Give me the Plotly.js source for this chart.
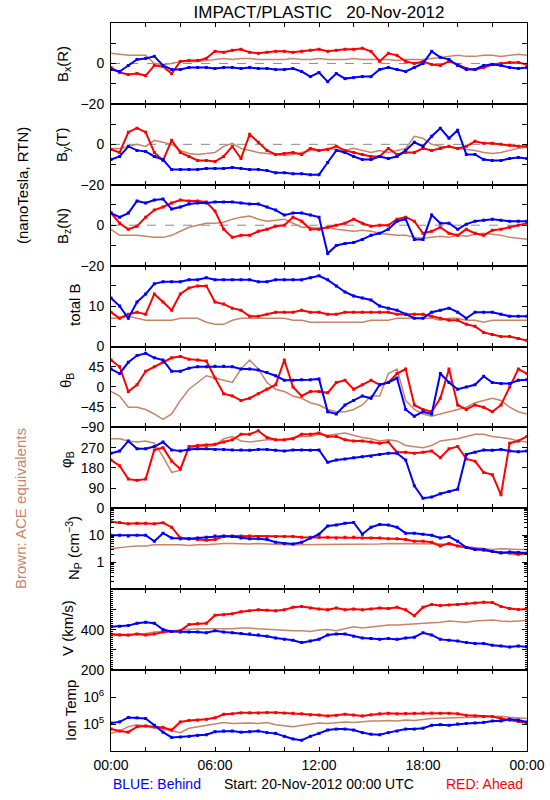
<!DOCTYPE html>
<html><head><meta charset="utf-8">
<script src="https://cdn.plot.ly/plotly-3.0.1.min.js"></script>
<style>html,body{margin:0;padding:0;background:#fff}#chart{width:550px;height:800px}</style>
</head><body><div id="chart"></div>
<script>
// time grid (hours after 20-Nov-2012 00:00 UTC)
const HOURS = [0,0.5,1,1.5,2,2.5,3,3.5,4,4.5,5,5.5,6,6.5,7,7.5,8,8.5,9,9.5,10,10.5,11,11.5,12,12.5,13,13.5,14,14.5,15,15.5,16,16.5,17,17.5,18,18.5,19,19.5,20,20.5,21,21.5,22,22.5,23,23.5,24];
const X_TICKS = [0,2,4,6,8,10,12,14,16,18,20,22,24];
const X_TICK_TEXT = ['00:00','','','06:00','','','12:00','','','18:00','','','00:00'];

// Bx (R), nT
const BX_BEHIND = [-3,-4,-1,2,2.5,3.5,-1,-3,-3,-2, -2,-2,-2.5,-2,-2,-2.5,-2,-2.5,-2.5,-3, -3,-2.5,-4,-6.5,-4.5,-9,-5,-7.5,-7,-6.5, -6.5,-3,-2,-3,-4,-2,0,6,3,2, -1,-3,-3,-1,-0.5,-1,-2,-2.5,-2];
const BX_AHEAD  = [-2,-4.5,-5.5,-5,-6,-1,-1.5,-5,1,1.5, 1.5,2.5,6,5.5,6.5,7,5.5,5,5.5,6, 6,5.5,6,6.5,7,6,6.5,7,7,7.5, 6,1,5,4,1,0,1,-0.5,-1,1, -0.5,-2.5,-3,-2,-0.5,0,0.5,0.5,-0.5];
const BX_ACE    = [5,4.5,4,4,4,0,-0.5,0,1,1, 1,1.5,2,2.5,2,2.5,2.5,2,2,2, 2,2.5,2,2,2.5,2,2,2,2.5,2, 2,2,2,1.5,2,2,2,2.5,3,3.5, 4,3.5,3.5,4,4,3.5,4,4.5,4];
// By (T)
const BY_BEHIND = [-7.5,-6,-1,-3,-3.5,-6,-7.5,-12.5,-12.5,-12.5, -12.5,-12,-12,-12,-11.5,-12,-12.5,-12.5,-13,-14, -14,-14.5,-14.5,-15,-15,-9,-3,-4,-6,-7.5, -7.5,-6,-7,-6,-3,1,-1,4,8,3, 7,-5,-5,-7.5,-8,-8,-7,-6.5,-7];
const BY_AHEAD  = [-2.5,-4,6,8,6,-4,-8,2,-4,-6, -8,-8,-8.5,-6,-1,-7,5,1,-3,-5, -4.5,-4,-5,-2,-3,-2.5,-1,-3,-4,-5, -6,-6,-2,-5,-4,-4,-2,-3,-2,-1, -2,-1,1.5,0.5,0.5,0,-0.5,-1,-1];
const BY_ACE    = [-2,-2,-1,0,-1,2,1,0,-3,-4.5, -5,-4.5,-4,-1,0.5,-2,-3,-4,-4.5,-5, -5.5,-5,-4,-3,-3,-2,-2.5,-3,-2,-3, -4,-3,-4,-3,-2,4,3,0,-1,-1.5, -2,-2.5,-3,-4,-4.5,-4,-3,-2,-1.5];
// Bz (N)
const BZ_BEHIND = [6,4,6,12,11,12.5,13,8,9,10.5, 11,11,11.5,11.5,11.5,11,10.5,10.5,9,7.5, 5,6,6,5,4,-14,-10,-9,-8.5,-7, -5,-4,-2,2,3,-7,-7,5,1,1, -2,0.5,2,2.5,3,2.5,2,2,2];
const BZ_AHEAD  = [6,1,-2,-0.5,4,7.5,9,11,12.5,12, 12,11.5,7,-2,-6,-5,-5,-3,-2,-0.5, 0,4,2,-2,-2,-1,0,1,3,1, -0.5,0,0,3,4,2,-4,-3,-1,-4, -5,-2,-4,-5,-2.5,-2,-1,0,1];
const BZ_ACE    = [-2,-5,-5,-5,-5.5,-6,-6,-5,-3,-1, 0,1,1,1.5,3,4,4.5,3,2,2.5, 3,1,-1,-1,-1.5,-1,-2,-2.5,-3,-2.5, -3,-4,-4.5,-5,-5,-6,-6.5,-6,-5.5,-6, -5,-5.5,-4.5,-4,-4.5,-5,-6,-6.5,-7];
// total B
const BT_BEHIND = [12,10,7,11,13,15.5,16,16,16,16.5, 16.5,17,16.5,16.5,16.5,16.5,16.5,16,16,16.5, 16.5,16.5,16.5,17,17.5,16.5,15,13.5,12.5,12, 11.5,10,9.5,9,8,7,7,8.5,9,9.5, 8.5,7,8.5,8.5,8.5,8,7.5,7.5,7.5];
const BT_AHEAD  = [8.5,7,8,8.5,8,13,11,9,13,14.5, 15,15,11,10.5,9.5,9,7.5,7.5,8,8.5, 8.5,8.5,9,8.5,8.5,8,8,8.5,8.5,8.5, 8.5,8.5,8.5,8,8,8,8,7.5,7,6.5, 6.5,5.5,5,3.5,3,2.5,2.5,2,1.5];
const BT_ACE    = [7,7,7.5,7,6.5,6.5,6.5,6.5,7,7, 7,6,5.5,5.5,6.5,7,7,7,7,7, 7,6.5,6.5,6,6,6,6,6,6,6, 6.5,6.5,6.5,7,7,7,7,7,6.5,7, 7,6.5,6.5,6,6.5,6.5,6.5,6.5,6.5];
// theta_B, deg
const TH_BEHIND = [40,30,55,70,75,65,60,35,35,42, 45,45,46,46,45,40,40,38,32,25, 15,15,16,16,18,-55,-60,-40,-30,-20, -25,5,10,20,-50,-65,-55,-60,30,10, -5,0,5,24,10,8,8,15,16];
const TH_AHEAD  = [60,45,-10,5,35,45,55,65,68,62, 60,58,20,-15,-20,-30,-25,-15,-5,5, 60,0,-20,-10,-10,-13,10,15,-5,5, 15,5,10,30,40,-40,-50,-55,-25,40, -40,-50,-40,-45,-55,-40,0,40,30];
const TH_ACE    = [-10,-20,-45,-45,-50,-60,-72,-60,-30,-5, 10,25,20,15,10,40,60,40,10,-5, -10,-20,-25,-35,-40,-50,-55,-55,-50,-40, -20,-20,30,40,-30,-50,-60,-65,-60,-55, -50,-45,-35,-30,-25,-30,-45,-55,-60];
// phi_B, deg
const PH_BEHIND = [245,255,300,265,265,275,295,260,255,262, 265,265,262,262,260,260,258,262,262,258, 255,260,260,258,260,205,215,220,225,230, 232,240,245,245,215,100,45,50,65,75, 85,240,250,260,258,262,255,252,255];
const PH_AHEAD  = [215,190,130,125,130,260,270,210,175,275, 280,282,285,295,305,330,330,345,315,305, 305,310,330,330,335,320,320,305,300,300, 295,290,295,250,250,245,250,255,225,265, 275,220,210,160,150,60,290,300,320];
const PH_ACE    = [310,310,300,295,300,290,230,160,170,270, 275,275,280,310,320,300,295,300,305,305, 305,315,320,320,330,325,330,335,325,315, 310,300,305,300,280,275,270,280,300,305, 310,320,330,330,320,315,310,300,295];
// proton density, cm^-3
const NP_BEHIND = [10,10,9.5,10,10,6,12,8,7.5,7.5, 8,8.5,9.5,9.5,9,8,7.5,7.5,7,5.5, 5,4.8,5.5,8,11,22,24,28,30,11, 20,25,24,20,12,12,11,10,8,9, 6,3.5,3,3,2.5,2.2,2.4,2.3,2.2];
const NP_AHEAD  = [32,30,27,28,28,27,29,20,8,7.5, 7,6.5,7,9,9.5,9.5,9.5,9,9,9, 9,9,8.5,8.5,8.5,8.5,8,8.5,8.5,8, 8,8,7.5,7.5,7,6,6,5.5,4,5, 4,3.5,3,2.8,2.5,2.3,2.2,2,2.1];
const NP_ACE    = [3.2,3.6,3.8,4,4,4.5,4.5,4.5,4.5,4.2, 4.5,4.5,4.8,5,5,4.8,4.8,5,4.8,4.5, 4.5,4.5,4.5,4.8,4.5,4.8,4.6,4.7,4.6,4.7, 4.5,4.8,5,5,5,5,5,5,4.8,4.5, 4.2,3.8,3.5,3.3,3,3.2,3,3,3];
// bulk speed, km/s
const V_BEHIND = [414,417,420,432,437,432,401,391,388,388, 388,385,395,388,385,381,378,374,367,359, 353,348,336,344,353,374,378,378,367,359, 356,353,356,352,359,363,385,374,352,348, 344,336,332,332,323,319,314,319,314];
const V_AHEAD  = [377,374,374,378,374,378,388,391,395,426, 429,432,471,474,479,489,493,498,496,493, 498,511,515,507,502,498,507,498,502,498, 502,507,505,511,498,469,511,524,520,522, 524,528,532,536,534,515,505,500,502];
const V_ACE    = [370,374,370,378,381,388,391,395,398,401, 404,404,404,404,404,408,408,404,401,401, 398,395,395,391,398,401,395,404,414,408, 414,420,423,423,426,426,429,435,437,443, 440,437,443,446,448,443,440,443,446];
// ion temperature, K
const T_BEHIND = [110000,120000,175000,170000,160000,90000,50000,32000,33000,35000, 38000,40000,52000,55000,55000,50000,52000,55000,48000,45000, 35000,28000,25000,35000,45000,60000,65000,65000,60000,48000, 42000,40000,48000,55000,65000,65000,70000,90000,95000,90000, 100000,105000,110000,115000,130000,130000,150000,140000,120000];
const T_AHEAD  = [66000,55000,50000,80000,85000,80000,75000,60000,120000,135000, 140000,150000,170000,230000,240000,260000,260000,255000,265000,265000, 255000,250000,240000,220000,215000,200000,210000,230000,215000,200000, 220000,240000,250000,240000,245000,250000,255000,255000,250000,250000, 240000,210000,200000,190000,190000,160000,140000,125000,110000];
const T_ACE    = [45000,55000,80000,95000,85000,70000,65000,55000,48000,70000, 80000,90000,100000,115000,105000,110000,110000,105000,115000,95000, 85000,80000,90000,100000,110000,105000,115000,120000,115000,125000, 130000,130000,135000,130000,140000,135000,150000,160000,165000,170000, 170000,175000,185000,190000,190000,195000,180000,170000,160000];

const COL_BEHIND = '#0000ff', COL_AHEAD = '#ff0000', COL_ACE = '#c98468';
const FONT = 'Liberation Sans, Arial, sans-serif';

const PANELS = [
  {label:'B<sub>x</sub>(R)', lx:63, ly:64, d:[BX_BEHIND,BX_AHEAD,BX_ACE], range:[-20,20], tv:[-20,-10,0,10,20], tt:['\u221220','','0','',''], zero:true},
  {label:'B<sub>y</sub>(T)', lx:63, ly:145, d:[BY_BEHIND,BY_AHEAD,BY_ACE], range:[-20,20], tv:[-20,-10,0,10,20], tt:['\u221220','','0','',''], zero:true},
  {label:'B<sub>z</sub>(N)', lx:63, ly:226, d:[BZ_BEHIND,BZ_AHEAD,BZ_ACE], range:[-20,20], tv:[-20,-10,0,10,20], tt:['\u221220','','0','',''], zero:true},
  {label:'total B', lx:75, ly:305, d:[BT_BEHIND,BT_AHEAD,BT_ACE], range:[0,20], tv:[0,5,10,15,20], tt:['0','','10','','']},
  {label:'\u03b8<sub>B</sub>', lx:66, ly:381, d:[TH_BEHIND,TH_AHEAD,TH_ACE], range:[-90,90], tv:[-90,-45,0,45,90], tt:['\u221290','\u221245','0','45','']},
  {label:'\u03c6<sub>B</sub>', lx:66, ly:460, d:[PH_BEHIND,PH_AHEAD,PH_ACE], range:[0,360], tv:[0,90,180,270,360], tt:['0','90','180','270','']},
  {label:'N<sub>P</sub> (cm<sup>\u22123</sup>)', lx:73, ly:548, d:[NP_BEHIND,NP_AHEAD,NP_ACE], type:'log', range:[-1,2], tv:[0.1,1,10,100], tt:['','1','10',''],
     minor:[0.2,0.3,0.4,0.5,0.6,0.7,0.8,0.9,2,3,4,5,6,7,8,9,20,30,40,50,60,70,80,90]},
  {label:'V (km/s)', lx:67, ly:628, d:[V_BEHIND,V_AHEAD,V_ACE], range:[200,600], tv:[200,300,400,500,600], tt:['200','','400','',''], minorDtick:10},
  {label:'Ion Temp', lx:70, ly:711, d:[T_BEHIND,T_AHEAD,T_ACE], type:'log', range:[4,7], tv:[1e4,1e5,1e6,1e7], tt:['','10<sup>5</sup>','10<sup>6</sup>','']}
];

const L = 111, R = 23, T = 23, B = 49, W = 550, H = 800;
const PW = W - L - R, PH = H - T - B;
const px = X => (X - L) / PW;
const py = Y => (H - B - Y) / PH;

const traces = [];
const layout = {
  width: W, height: H, margin: {l:L, r:R, t:T, b:B, pad:0},
  paper_bgcolor:'#fff', plot_bgcolor:'#fff', showlegend:false,
  font:{family:FONT, size:14, color:'#000'},
  title:{text:'IMPACT/PLASTIC\u00a0\u00a0\u00a020-Nov-2012', font:{family:FONT, size:17, color:'#000'},
         x:319/W, xanchor:'center', xref:'container', y:1-12/H, yanchor:'middle', yref:'container'},
  shapes:[], annotations:[]
};

const n = PANELS.length;
PANELS.forEach((p, i) => {
  const k = i + 1;
  const xa = 'x' + (k === 1 ? '' : k), ya = 'y' + (k === 1 ? '' : k);
  const xkey = 'xaxis' + (k === 1 ? '' : k), ykey = 'yaxis' + (k === 1 ? '' : k);
  const last = (i === n - 1);
  layout[xkey] = {
    domain:[0,1], anchor:ya, range:[0,24], tickmode:'array', tickvals:X_TICKS,
    ticktext:X_TICK_TEXT, showticklabels:last, ticks:'inside', ticklen:4, tickcolor:'#000',
    showline:true, linecolor:'#000', linewidth:1, mirror:'ticks', showgrid:false, zeroline:false,
    ticklabelstandoff:1, tickfont:{family:FONT, size:14, color:'#000'}
  };
  if (k > 1) layout[xkey].matches = 'x';
  const y0 = 1 - (i + 1) / n, y1 = 1 - i / n;
  const yax = {
    domain:[y0, y1], anchor:xa, range:p.range, type:p.type || 'linear',
    tickmode:'array', tickvals:p.tv, ticktext:p.tt, ticks:'inside', ticklen:5, tickcolor:'#000',
    showline:true, linecolor:'#000', linewidth:1, mirror:'ticks', showgrid:false, zeroline:false,
    ticklabelstandoff:3, tickfont:{family:FONT, size:14, color:'#000'}
  };
  if (p.minor) yax.minor = {tickmode:'array', tickvals:p.minor, ticks:'inside', ticklen:3, tickcolor:'#000', showgrid:false};
  if (p.minorDtick) yax.minor = {dtick:p.minorDtick, ticks:'inside', ticklen:2, tickcolor:'#000', showgrid:false};
  layout[ykey] = yax;

  if (p.zero) {
    layout.shapes.push({type:'line', xref:xa, yref:ya, x0:0, x1:24, y0:0, y1:0, layer:'below',
      line:{color:'#8c8c8c', width:1, dash:'dash'}});
  }
  const [behind, ahead, ace] = p.d;
  traces.push({x:HOURS, y:ace, xaxis:xa, yaxis:ya, type:'scatter', mode:'lines', line:{color:COL_ACE, width:1.5}, hoverinfo:'skip'});
  traces.push({x:HOURS, y:ahead, xaxis:xa, yaxis:ya, type:'scatter', mode:'lines+markers', line:{color:COL_AHEAD, width:2}, marker:{color:COL_AHEAD, size:3, symbol:'square'}, hoverinfo:'skip'});
  traces.push({x:HOURS, y:behind, xaxis:xa, yaxis:ya, type:'scatter', mode:'lines+markers', line:{color:COL_BEHIND, width:2}, marker:{color:COL_BEHIND, size:3, symbol:'square'}, hoverinfo:'skip'});

  layout.annotations.push({text:p.label, xref:'paper', yref:'paper', x:px(p.lx), y:py(p.ly),
    xanchor:'center', yanchor:'middle', textangle:-90, showarrow:false, font:{family:FONT, size:15, color:'#000'}});
});

layout.annotations.push(
  {text:'(nanoTesla, RTN)', xref:'paper', yref:'paper', x:px(22), y:py(186), xanchor:'center', yanchor:'middle', textangle:-90, showarrow:false, font:{family:FONT, size:15, color:'#000'}},
  {text:'Brown: ACE equivalents', xref:'paper', yref:'paper', x:px(20), y:py(509), xanchor:'center', yanchor:'middle', textangle:-90, showarrow:false, font:{family:FONT, size:15, color:COL_ACE}},
  {text:'BLUE: Behind', xref:'paper', yref:'paper', x:px(111), y:py(784), xanchor:'left', yanchor:'middle', showarrow:false, font:{family:FONT, size:14, color:COL_BEHIND}},
  {text:'Start: 20-Nov-2012 00:00 UTC', xref:'paper', yref:'paper', x:px(319), y:py(784), xanchor:'center', yanchor:'middle', showarrow:false, font:{family:FONT, size:14, color:'#000'}},
  {text:'RED: Ahead', xref:'paper', yref:'paper', x:px(525), y:py(784), xanchor:'right', yanchor:'middle', showarrow:false, font:{family:FONT, size:14, color:COL_AHEAD}}
);

Plotly.newPlot('chart', traces, layout, {staticPlot:true, displayModeBar:false});
</script>
</body></html>
